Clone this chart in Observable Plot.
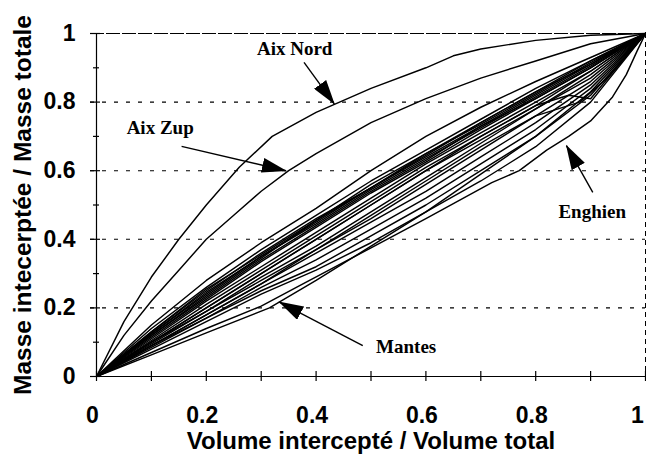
<!DOCTYPE html>
<html><head><meta charset="utf-8">
<script src="https://cdn.jsdelivr.net/npm/d3@7"></script>
<script src="https://cdn.jsdelivr.net/npm/@observablehq/plot@0.6"></script>
<style>body{margin:0;background:#fff}</style>
</head><body><div id="chart"></div>
<script>
// ---- axes ----
const xTicks = [0, 0.2, 0.4, 0.6, 0.8, 1];
const xTickLabels = ["0", "0.2", "0.4", "0.6", "0.8", "1"];
const yTicks = [0, 0.2, 0.4, 0.6, 0.8, 1];
const yTickLabels = ["0", "0.2", "0.4", "0.6", "0.8", "1"];
const minorTicks = [0.1, 0.3, 0.5, 0.7, 0.9];
const gridY = [0.2, 0.4, 0.6, 0.8];
const xTitle = "Volume intercepté / Volume total";
const yTitle = "Masse intecerptée / Masse totale";

// ---- named curves ----
const aixNordX = [0, 0.05, 0.1, 0.15, 0.2, 0.26, 0.32, 0.4, 0.5, 0.6, 0.65, 0.7, 0.8, 0.9, 1];
const aixNordY = [0, 0.16, 0.29, 0.40, 0.50, 0.61, 0.70, 0.77, 0.84, 0.90, 0.935, 0.955, 0.98, 0.995, 1];
const aixZupX = [0, 0.05, 0.1, 0.15, 0.2, 0.25, 0.3, 0.35, 0.4, 0.5, 0.6, 0.7, 0.8, 0.9, 1];
const aixZupY = [0, 0.12, 0.22, 0.31, 0.40, 0.47, 0.54, 0.60, 0.65, 0.74, 0.81, 0.87, 0.92, 0.97, 1];
const mantesX = [0, 0.1, 0.2, 0.315, 0.4, 0.5, 0.6, 0.7, 0.8, 0.9, 1];
const mantesY = [0, 0.063, 0.127, 0.20, 0.28, 0.38, 0.48, 0.59, 0.70, 0.83, 1];
const enghienX = [0, 0.1, 0.2, 0.3, 0.37, 0.5, 0.6, 0.72, 0.77, 0.82, 0.86, 0.9, 0.94, 0.965, 0.985, 1];
const enghienY = [0, 0.07, 0.14, 0.205, 0.265, 0.375, 0.46, 0.565, 0.60, 0.66, 0.70, 0.745, 0.815, 0.88, 0.95, 1];

// ---- unnamed bundle of curves (shared x grid) ----
const gridX = [0, 0.1, 0.2, 0.3, 0.4, 0.5, 0.6, 0.7, 0.8, 0.9, 1];
const bundleY = [
  [0, 0.15, 0.28, 0.39, 0.49, 0.60, 0.70, 0.785, 0.86, 0.93, 1],
  [0, 0.14, 0.26, 0.37, 0.47, 0.57, 0.66, 0.75, 0.84, 0.92, 1],
  [0, 0.13, 0.255, 0.355, 0.455, 0.56, 0.65, 0.735, 0.825, 0.915, 1],
  [0, 0.13, 0.25, 0.36, 0.46, 0.55, 0.65, 0.74, 0.83, 0.92, 1],
  [0, 0.125, 0.245, 0.35, 0.445, 0.545, 0.635, 0.725, 0.815, 0.905, 1],
  [0, 0.125, 0.24, 0.35, 0.45, 0.55, 0.64, 0.73, 0.82, 0.91, 1],
  [0, 0.12, 0.235, 0.345, 0.455, 0.55, 0.645, 0.74, 0.83, 0.91, 1],
  [0, 0.12, 0.23, 0.34, 0.44, 0.54, 0.63, 0.73, 0.81, 0.90, 1],
  [0, 0.115, 0.225, 0.335, 0.435, 0.535, 0.625, 0.72, 0.81, 0.90, 1],
  [0, 0.11, 0.22, 0.32, 0.42, 0.52, 0.62, 0.71, 0.80, 0.89, 1],
  [0, 0.105, 0.21, 0.31, 0.41, 0.51, 0.61, 0.70, 0.79, 0.89, 1],
  [0, 0.10, 0.20, 0.30, 0.40, 0.50, 0.60, 0.69, 0.78, 0.88, 1],
  [0, 0.10, 0.19, 0.29, 0.38, 0.48, 0.58, 0.68, 0.78, 0.87, 1],
  [0, 0.095, 0.19, 0.28, 0.37, 0.46, 0.56, 0.66, 0.76, 0.86, 1],
  [0, 0.09, 0.18, 0.27, 0.36, 0.45, 0.54, 0.64, 0.74, 0.85, 1],
  [0, 0.09, 0.17, 0.26, 0.34, 0.43, 0.52, 0.62, 0.72, 0.84, 1],
  [0, 0.085, 0.17, 0.25, 0.32, 0.41, 0.50, 0.60, 0.70, 0.82, 1],
  [0, 0.08, 0.16, 0.24, 0.31, 0.39, 0.48, 0.57, 0.67, 0.80, 1]
];
const wiggle1X = [0, 0.1, 0.2, 0.3, 0.4, 0.5, 0.6, 0.7, 0.8, 0.86, 0.9, 1];
const wiggle1Y = [0, 0.10, 0.20, 0.30, 0.40, 0.50, 0.60, 0.70, 0.79, 0.82, 0.81, 1];
const wiggle2X = [0, 0.1, 0.2, 0.3, 0.4, 0.5, 0.6, 0.7, 0.8, 0.88, 0.93, 1];
const wiggle2Y = [0, 0.09, 0.18, 0.27, 0.37, 0.47, 0.57, 0.67, 0.76, 0.80, 0.87, 1];

// ---- annotations (data coordinates) ----
const labelNames = ["Aix Nord", "Aix Zup", "Enghien", "Mantes"];
const labelX = [0.361, 0.116, 0.903, 0.564];
const labelY = [0.954, 0.724, 0.479, 0.085];
const arrowFromX = [0.378, 0.155, 0.904, 0.485];
const arrowFromY = [0.916, 0.671, 0.537, 0.090];
const arrowToX = [0.433, 0.345, 0.856, 0.333];
const arrowToY = [0.795, 0.600, 0.673, 0.217];

// ---- build tables ----
const curves = [
  {name: "Aix Nord", x: aixNordX, y: aixNordY},
  {name: "Aix Zup", x: aixZupX, y: aixZupY},
  {name: "Mantes", x: mantesX, y: mantesY},
  {name: "Enghien", x: enghienX, y: enghienY},
  {name: "w1", x: wiggle1X, y: wiggle1Y},
  {name: "w2", x: wiggle2X, y: wiggle2Y},
  ...bundleY.map((ys, k) => ({name: "b" + k, x: gridX, y: ys}))
];
const rows = curves.flatMap(c => c.x.map((x, i) => ({series: c.name, x, y: c.y[i]})));
const labels = labelNames.map((t, i) => ({t, x: labelX[i], y: labelY[i]}));
const arrows = labelNames.map((t, i) => ({x1: arrowFromX[i], y1: arrowFromY[i], x2: arrowToX[i], y2: arrowToY[i]}));

const sans = "Liberation Sans, Arial, Helvetica, sans-serif";
const serif = "Liberation Serif, Times New Roman, serif";
const fmtX = d => xTickLabels[xTicks.indexOf(d)];
const fmtY = d => yTickLabels[yTicks.indexOf(d)];

const svg = Plot.plot({
  width: 646, height: 458,
  marginLeft: 96, marginRight: 1, marginTop: 33, marginBottom: 82,
  x: {domain: [0, 1]},
  y: {domain: [0, 1]},
  style: {background: "white", color: "black"},
  marks: [
    Plot.ruleY(gridY, {stroke: "black", strokeWidth: 1.1, strokeDasharray: "4,8", insetLeft: -6}),
    Plot.ruleY([1], {stroke: "black", strokeWidth: 1.2, strokeDasharray: "14,2", insetLeft: -6}),
    Plot.ruleX([1], {stroke: "black", strokeWidth: 1, strokeDasharray: "5,4"}),
    Plot.ruleX([0], {stroke: "black", strokeWidth: 1.2}),
    Plot.ruleY([0], {stroke: "black", strokeWidth: 1.2, insetLeft: -6}),
    Plot.ruleY(yTicks, {x1: 0, x2: 0, insetLeft: -6, insetRight: -4, stroke: "black", strokeWidth: 1.2}),
    Plot.ruleY(minorTicks, {x1: 0, x2: 0, insetLeft: -3, insetRight: -3, stroke: "black", strokeWidth: 1.2}),
    Plot.ruleX(xTicks.concat(minorTicks), {y1: 0, y2: 0, insetTop: -5, insetBottom: -5, stroke: "black", strokeWidth: 1.2}),
    Plot.line(rows, {x: "x", y: "y", z: "series", stroke: "black", strokeWidth: 1.45, strokeLinejoin: "round"}),
    Plot.link(arrows, {x1: "x1", y1: "y1", x2: "x2", y2: "y2", stroke: "black", strokeWidth: 1.4}),
    Plot.text(labels, {x: "x", y: "y", text: "t", fontFamily: serif, fontSize: 19, fontWeight: "bold", fill: "black"}),
    Plot.axisX(xTicks.slice(0, -1), {tickFormat: fmtX, tickSize: 0, tickPadding: 30, dx: -4,
      fontSize: 23, fontWeight: "bold", fontFamily: sans, label: null}),
    Plot.axisX(xTicks.slice(-1), {tickFormat: fmtX, tickSize: 0, tickPadding: 30, dx: -8,
      fontSize: 23, fontWeight: "bold", fontFamily: sans, label: null}),
    Plot.axisY(yTicks, {tickFormat: fmtY, tickSize: 0, tickPadding: 21,
      fontSize: 23, fontWeight: "bold", fontFamily: sans, label: null}),
    Plot.axisX({ticks: [], tickSize: 0, label: xTitle, labelAnchor: "center", labelOffset: 72, labelArrow: "none",
      fontSize: 24, fontWeight: "bold", fontFamily: sans}),
    Plot.axisY({ticks: [], tickSize: 0, label: yTitle, labelAnchor: "center", labelOffset: 83, labelArrow: "none",
      fontSize: 24.5, fontWeight: "bold", fontFamily: sans})
  ]
});

const ns = "http://www.w3.org/2000/svg";
const defs = document.createElementNS(ns, "defs");
defs.innerHTML = '<marker id="ahead" markerUnits="userSpaceOnUse" viewBox="0 0 25 15" markerWidth="25" markerHeight="15" refX="24" refY="7.5" orient="auto"><path d="M0,0L25,7.5L0,15Z" fill="black"/></marker>';
svg.insertBefore(defs, svg.firstChild);
svg.querySelectorAll('g[aria-label="link"] path').forEach(p => p.setAttribute("marker-end", "url(#ahead)"));

document.getElementById("chart").appendChild(svg);
</script>
</body></html>
